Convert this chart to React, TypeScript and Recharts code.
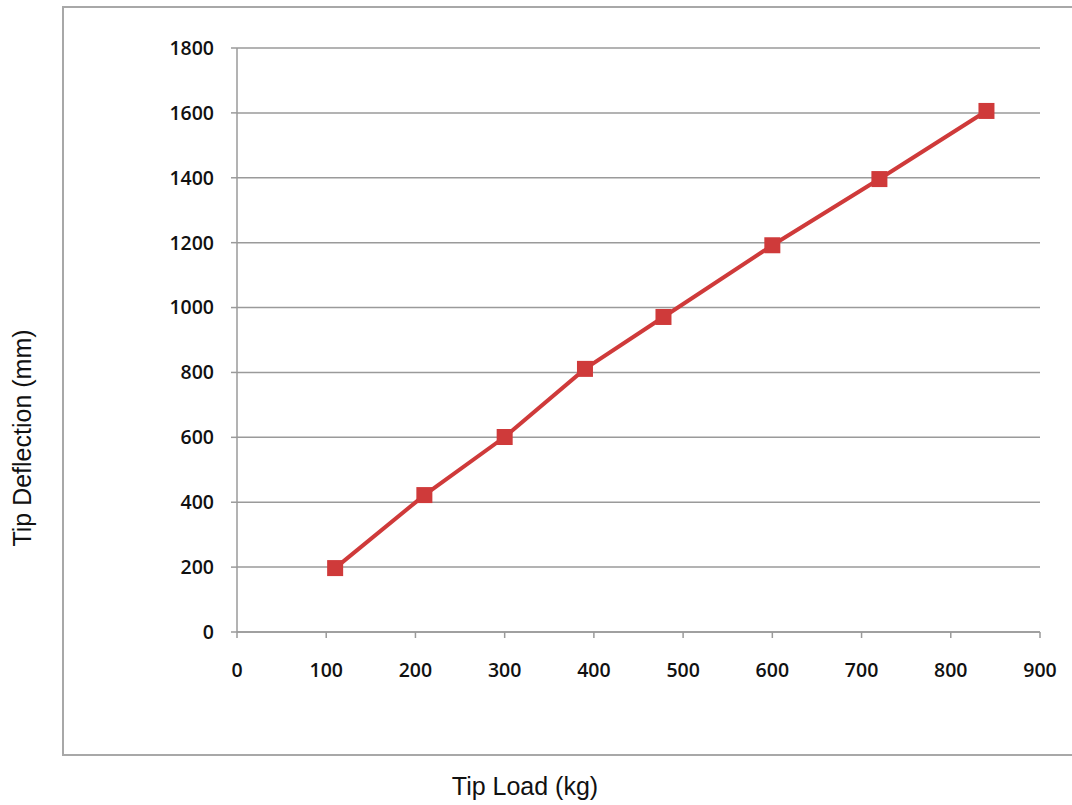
import { LineChart, Line, XAxis, YAxis, CartesianGrid } from "recharts";

// Tip load (kg) vs tip deflection (mm)
const tipLoad = [110, 210, 300, 390, 478, 600, 720, 840];
const tipDeflection = [197, 422, 601, 811, 971, 1192, 1396, 1606];
const xTicks = [0, 100, 200, 300, 400, 500, 600, 700, 800, 900];
const yTicks = [0, 200, 400, 600, 800, 1000, 1200, 1400, 1600, 1800];

const data = tipLoad.map((load, i) => ({ load, deflection: tipDeflection[i] }));

const RED = "#cf3a3a";
const tickStyle = { fill: "#111", fontSize: 19.5, fontFamily: "'Open Sans', sans-serif", fontWeight: 600 };

const SquareDot = (props: any) => {
  const { cx, cy } = props;
  if (cx == null || cy == null) return null;
  return <rect x={cx - 8} y={cy - 8} width={16} height={16} fill={RED} />;
};

export default function App() {
  return (
    <div style={{ position: "absolute", left: 0, top: 0, width: 1072, height: 805, background: "#fff", overflow: "hidden" }}>
      <div
        style={{
          position: "absolute",
          left: 62,
          top: 6,
          width: 1030,
          height: 746,
          border: "2px solid #a8a8a8",
        }}
      />
      <div style={{ position: "absolute", left: 0, top: 0 }}>
        <LineChart width={1072} height={805} data={data} margin={{ top: 48, right: 32, bottom: 113, left: 0 }}>
          <CartesianGrid vertical={false} stroke="#9a9a9a" strokeWidth={1.5} />
          <XAxis
            dataKey="load"
            type="number"
            domain={[0, 900]}
            ticks={xTicks}
            interval={0}
            height={60}
            stroke="#9a9a9a"
            strokeWidth={1.5}
            tickSize={6}
            tickMargin={25}
            tick={tickStyle}
          />
          <YAxis
            dataKey="deflection"
            type="number"
            domain={[0, 1800]}
            ticks={yTicks}
            interval={0}
            width={237}
            stroke="#9a9a9a"
            strokeWidth={1.5}
            tickSize={6}
            tickMargin={17}
            tick={tickStyle}
          />
          <Line
            dataKey="deflection"
            stroke={RED}
            strokeWidth={4}
            dot={<SquareDot />}
            activeDot={false}
            isAnimationActive={false}
          />
        </LineChart>
      </div>
      <div
        style={{
          position: "absolute",
          left: 525,
          top: 786,
          transform: "translate(-50%, -50%)",
          fontFamily: "'Liberation Sans', Arial, sans-serif",
          fontSize: 25,
          color: "#111",
          whiteSpace: "nowrap",
        }}
      >
        Tip Load (kg)
      </div>
      <div
        style={{
          position: "absolute",
          left: 22,
          top: 438,
          transform: "translate(-50%, -50%) rotate(-90deg)",
          fontFamily: "'Liberation Sans', Arial, sans-serif",
          fontSize: 25,
          color: "#111",
          whiteSpace: "nowrap",
        }}
      >
        Tip Deflection (mm)
      </div>
    </div>
  );
}
